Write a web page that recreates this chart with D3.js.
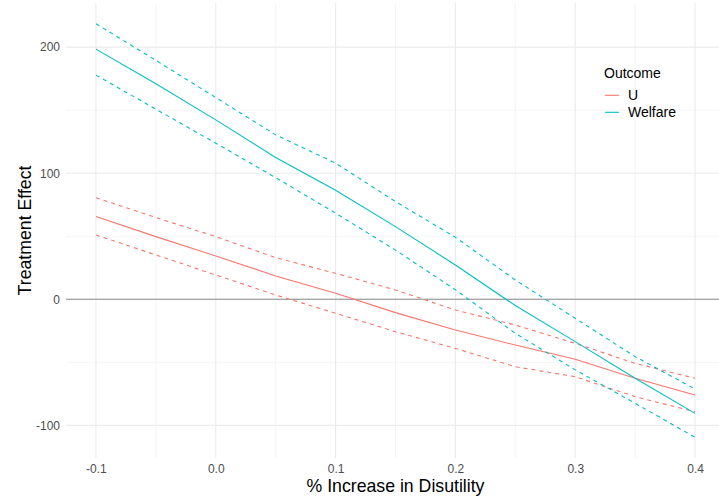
<!DOCTYPE html>
<html>
<head>
<meta charset="utf-8">
<script src="https://cdn.jsdelivr.net/npm/d3@7"></script>
<style>
  body { margin: 0; background: #fff; }
  svg { display: block; font-family: "Liberation Sans", Arial, sans-serif; }
</style>
</head>
<body>
<div id="chart"></div>
<script>
// disutility increase
var xs = [-0.1, -0.05, 0, 0.05, 0.1, 0.15, 0.2, 0.25, 0.3, 0.35, 0.4];

// estimate, upper and lower bounds per outcome
var uMid   = [65.6, 49.7, 34.4, 18.5, 4.8, -10.6, -24.4, -36.3, -47.6, -62.7, -76];
var uHigh  = [80.6, 64.8, 49.7, 33, 20.6, 7.4, -8.5, -20.4, -35, -50.8, -62.7];
var uLow   = [51, 35.2, 19.3, 3.4, -11.1, -25.7, -39, -53.5, -61.4, -77.3, -89.2];
var wMid   = [198.4, 170.9, 142.3, 112.5, 86.5, 57.6, 27.2, -5, -33.6, -62.7, -90.5];
var wHigh  = [218.6, 189.5, 160, 130.4, 108, 77.5, 49.2, 15.3, -15.1, -45.5, -71.2];
var wLow   = [177.8, 150.8, 123.8, 96.5, 68.3, 39, 7.6, -27, -56, -82.5, -109.5];

var outcomes = ["U", "Welfare"];
var xTicks = [-0.1, 0, 0.1, 0.2, 0.3, 0.4];
var xMinor = [-0.05, 0.05, 0.15, 0.25, 0.35];
var yTicks = [-100, 0, 100, 200];
var yMinor = [-50, 50, 150];

var width = 719, height = 498;
var colour = d3.scaleOrdinal().domain(outcomes).range(["#F8766D", "#00BFC4"]);

var series = [
    { name: "U", vals: uMid, dash: null },
    { name: "U", vals: uHigh, dash: "4,4" },
    { name: "U", vals: uLow, dash: "4,4" },
    { name: "Welfare", vals: wMid, dash: null },
    { name: "Welfare", vals: wHigh, dash: "4,4" },
    { name: "Welfare", vals: wLow, dash: "4,4" }
];

var allVals = [].concat(uMid, uHigh, uLow, wMid, wHigh, wLow);
var yLo = d3.min(allVals), yHi = d3.max(allVals);
var yPad = (yHi - yLo) * 0.05;
var xPad = (0.4 - -0.1) * 0.05;

var x = d3.scaleLinear().domain([-0.1 - xPad, 0.4 + xPad]).range([66, 725]);
var y = d3.scaleLinear().domain([yLo - yPad, yHi + yPad]).range([458, 3]);

var svg = d3.select("#chart").append("svg")
    .attr("width", width)
    .attr("height", height);

var grid = svg.append("g");
grid.selectAll(".vminor").data(xMinor).enter().append("line")
    .attr("x1", d => x(d)).attr("x2", d => x(d))
    .attr("y1", y.range()[0]).attr("y2", y.range()[1])
    .style("stroke", "#EBEBEB").style("stroke-width", 0.55);
grid.selectAll(".hminor").data(yMinor).enter().append("line")
    .attr("y1", d => y(d)).attr("y2", d => y(d))
    .attr("x1", x.range()[0]).attr("x2", x.range()[1])
    .style("stroke", "#EBEBEB").style("stroke-width", 0.55);
grid.selectAll(".vmajor").data(xTicks).enter().append("line")
    .attr("x1", d => x(d)).attr("x2", d => x(d))
    .attr("y1", y.range()[0]).attr("y2", y.range()[1])
    .style("stroke", "#EBEBEB").style("stroke-width", 1.1);
grid.selectAll(".hmajor").data(yTicks).enter().append("line")
    .attr("y1", d => y(d)).attr("y2", d => y(d))
    .attr("x1", x.range()[0]).attr("x2", x.range()[1])
    .style("stroke", "#EBEBEB").style("stroke-width", 1.1);

// zero reference line
svg.append("line")
    .attr("x1", x.range()[0]).attr("x2", x.range()[1])
    .attr("y1", y(0)).attr("y2", y(0))
    .style("stroke", "#8C8C8C").style("stroke-width", 1.1);

var line = d3.line()
    .x(function(d, i) { return x(xs[i]); })
    .y(function(d) { return y(d); });

svg.selectAll(".series").data(series).enter().append("path")
    .attr("d", d => line(d.vals))
    .style("fill", "none")
    .style("stroke", d => colour(d.name))
    .style("stroke-width", 1.1)
    .style("stroke-dasharray", d => d.dash);

// axes (labels only, as in theme_minimal)
var xAxis = svg.append("g")
    .attr("transform", "translate(0," + 458 + ")")
    .call(d3.axisBottom(x).tickValues(xTicks).tickSize(0).tickPadding(6)
        .tickFormat(d3.format(".1f")));
var yAxis = svg.append("g")
    .attr("transform", "translate(" + 66 + ",0)")
    .call(d3.axisLeft(y).tickValues(yTicks).tickSize(0).tickPadding(6)
        .tickFormat(d3.format("d")));
[xAxis, yAxis].forEach(function(a) {
    a.select(".domain").remove();
    a.selectAll("text")
        .style("font-family", "'Liberation Sans', Arial, sans-serif")
        .style("font-size", "12px")
        .style("fill", "#4D4D4D");
});
xAxis.selectAll("text").text(function(d) { return d3.format(".1f")(d).replace("−", "-"); });
yAxis.selectAll("text").text(function(d) { return String(d); });

svg.append("text")
    .attr("x", (x.range()[0] + x.range()[1]) / 2)
    .attr("y", 491.5)
    .attr("text-anchor", "middle")
    .style("font-size", "17.7px")
    .text("% Increase in Disutility");

svg.append("text")
    .attr("transform", "translate(31," + (y.range()[0] + y.range()[1]) / 2 + ") rotate(-90)")
    .attr("text-anchor", "middle")
    .style("font-size", "17.7px")
    .text("Treatment Effect");

// legend
var legend = svg.append("g").attr("transform", "translate(604,0)");
legend.append("text")
    .attr("x", 0).attr("y", 78)
    .style("font-size", "14px")
    .text("Outcome");
var item = legend.selectAll(".item").data(outcomes).enter().append("g")
    .attr("transform", (d, i) => "translate(0," + (95.3 + i * 17) + ")");
item.append("line")
    .attr("x1", 1).attr("x2", 15)
    .style("stroke", d => colour(d))
    .style("stroke-width", 1.1);
item.append("text")
    .attr("x", 24).attr("y", 5)
    .style("font-size", "14px")
    .text(d => d);
</script>
</body>
</html>
